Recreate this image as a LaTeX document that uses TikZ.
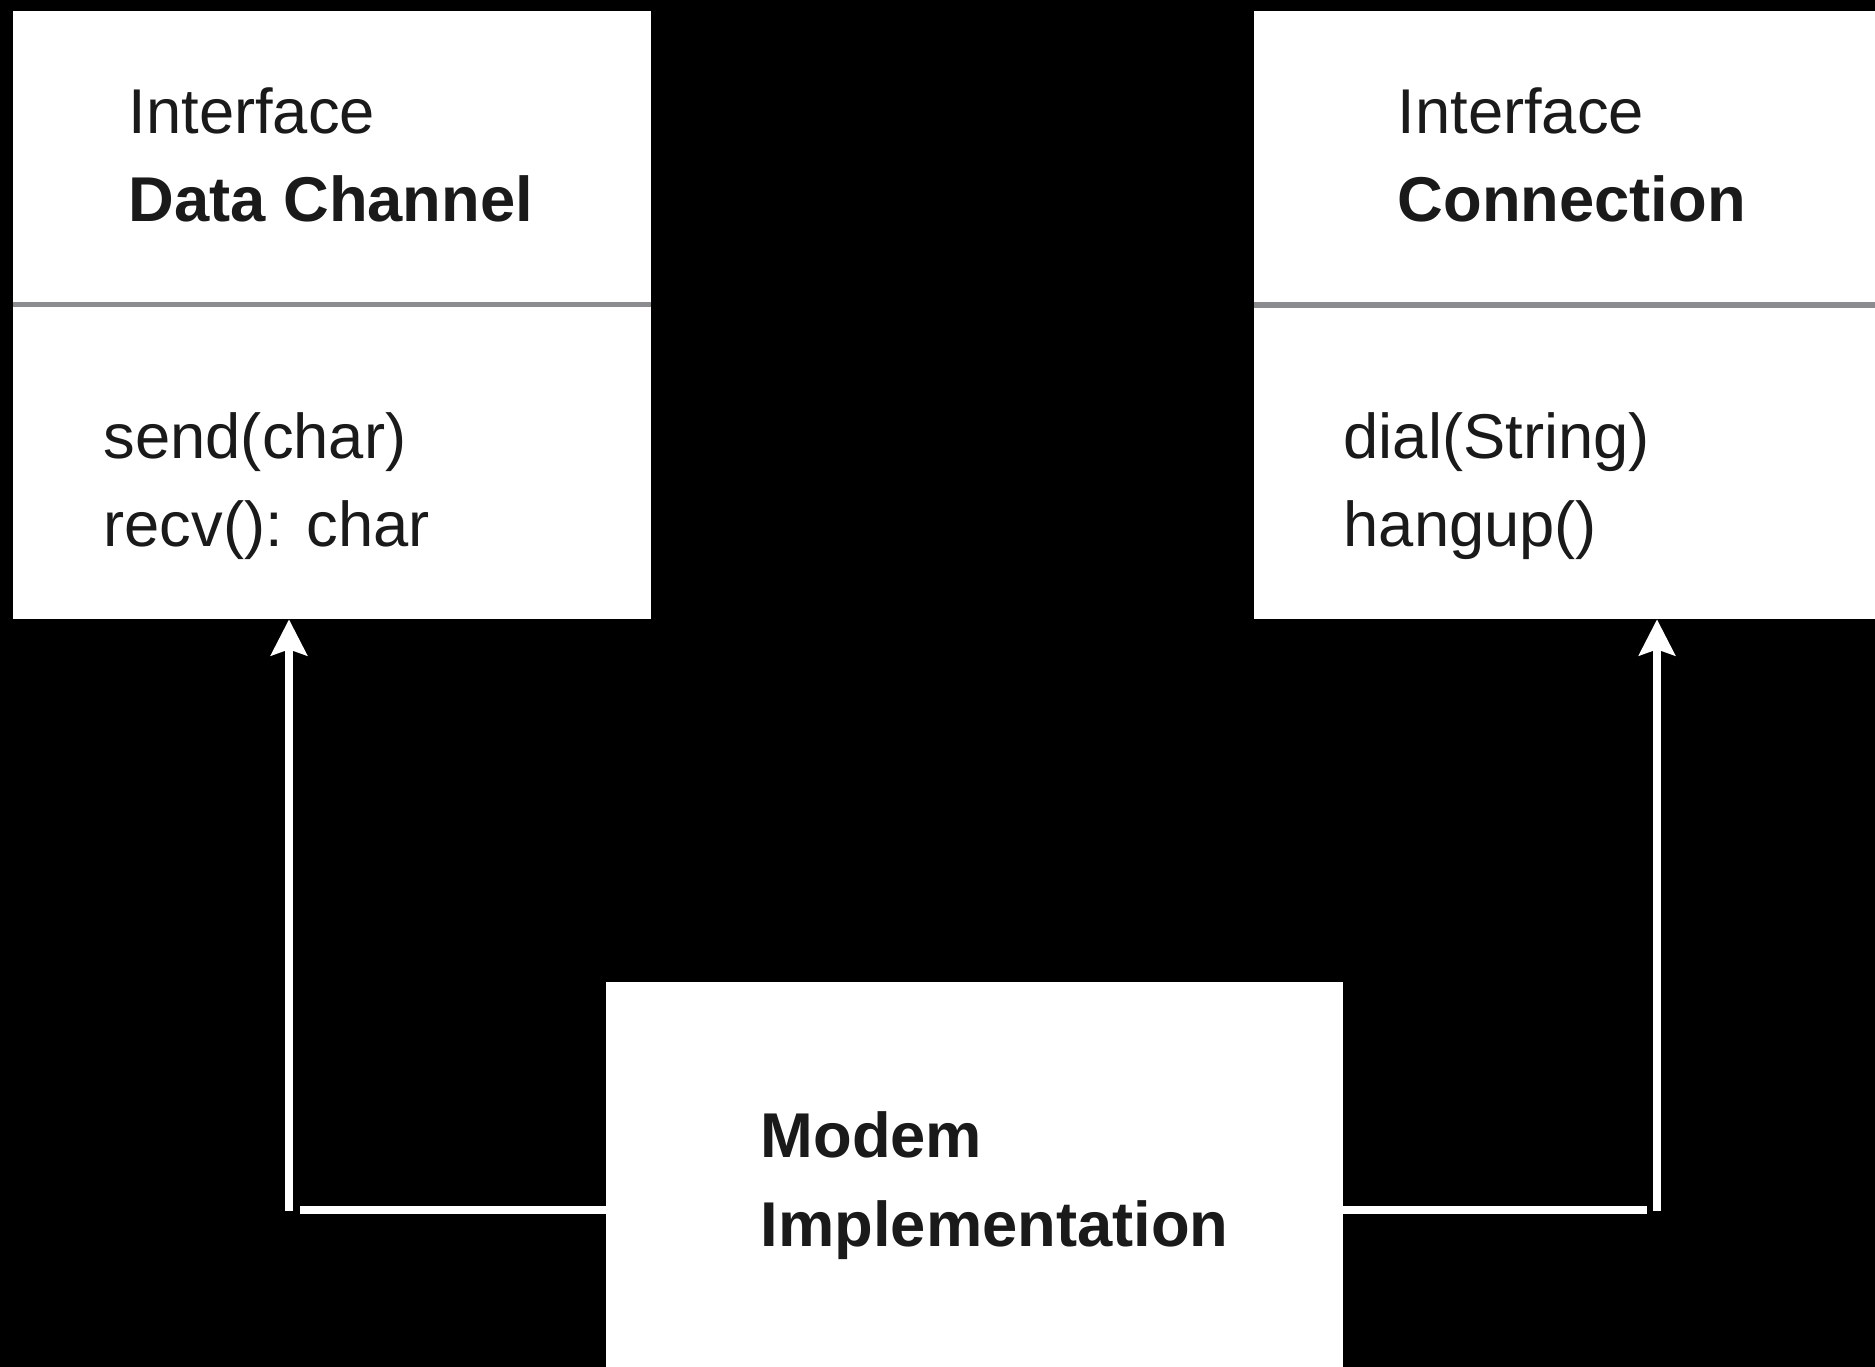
\documentclass[tikz,border=0pt]{standalone}
\usepackage{fontspec}
\setmainfont{Liberation Sans}
\usetikzlibrary{arrows.meta,calc}
\definecolor{ink}{HTML}{1A1A1A}
\definecolor{rulegray}{HTML}{8A8C90}
\begin{document}
\begin{tikzpicture}[x=0.01cm,y=-0.01cm,
  panel/.style={rectangle,fill=white,draw=none,inner sep=0,outer sep=0,anchor=north west},
  txt/.style={inner sep=0,anchor=base west,text=ink,font=\fontsize{18pt}{22pt}\selectfont},
  txtb/.style={txt,font=\fontsize{18pt}{22pt}\selectfont\bfseries},
  divider/.style={draw=rulegray,line width=0.055cm},
  conn/.style={draw=white,line width=0.075cm},
  realize/.style={conn,-{Stealth[length=0.36cm,width=0.36cm,inset=0.06cm]}}]

% canvas
\useasboundingbox (0,0) rectangle (1875,1367);
\fill[black] (0,0) rectangle (1875,1367);

% class boxes
\node[panel,minimum width=6.38cm,minimum height=6.08cm] (dc) at (13,11) {};
\node[panel,minimum width=6.21cm,minimum height=6.08cm] (cn) at (1254,11) {};
\node[panel,minimum width=7.37cm,minimum height=3.85cm] (modem) at (606,982) {};

% compartment dividers
\draw[divider] ($(dc.north west)+(0,293.5)$) -- ($(dc.north east)+(0,293.5)$);
\draw[divider] ($(cn.north west)+(0,294)$) -- ($(cn.north east)+(0,294)$);

% Data Channel interface
\node[txt]  (dci)  at (128,134) {Interface};
\node[txtb] (dcn)  at (128,222) {Data Channel};
\node[txt]  (dcm1) at (103,459) {send(char)};
\node[txt]  (dcm2) at (103,547) {recv(): char};

% Connection interface
\node[txt]  (cni)  at (1397,134) {Interface};
\node[txtb] (cnn)  at (1397,222) {Connection};
\node[txt]  (cnm1) at (1343,459) {dial(String)};
\node[txt]  (cnm2) at (1343,547) {hangup()};

% implementation class
\node[txtb] (mn1) at (760,1157) {Modem};
\node[txtb] (mn2) at (760,1246) {Implementation};

% realization connectors
\coordinate (lbend)  at (289,1211);
\coordinate (lstart) at (300,1210);
\draw[conn] (modem.west |- lstart) -- (lstart);
\draw[realize] (lbend) -- (lbend |- dc.south);

\coordinate (rbend)  at (1657,1211);
\coordinate (rstart) at (1647,1210);
\draw[conn] (modem.east |- rstart) -- (rstart);
\draw[realize] (rbend) -- (rbend |- cn.south);
\end{tikzpicture}
\end{document}
